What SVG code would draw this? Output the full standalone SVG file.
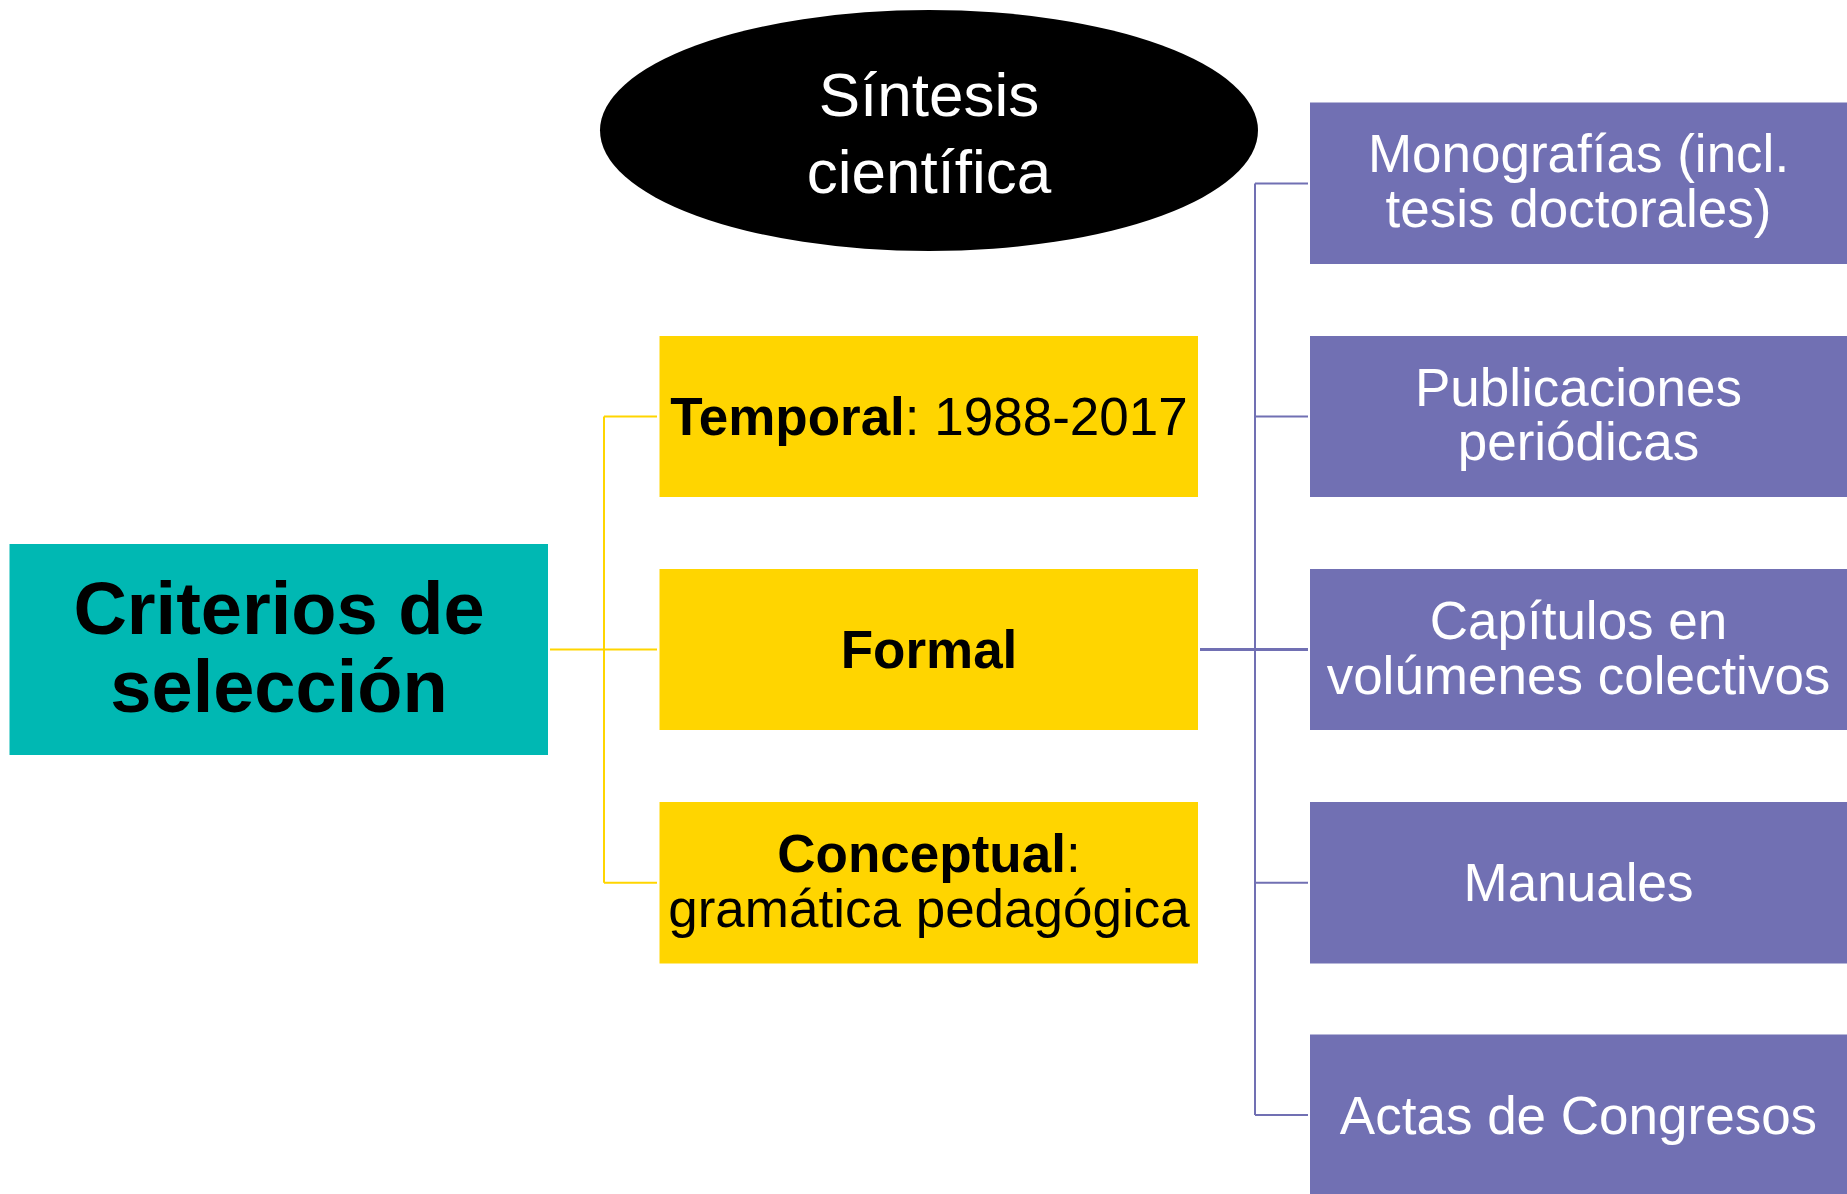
<svg xmlns="http://www.w3.org/2000/svg" width="1847" height="1194" viewBox="0 0 1847 1194">
<style>
.t{font-family:"Liberation Sans",Arial,sans-serif;text-anchor:middle}
.teal{fill:#00B8B3}
.yel{fill:#FFD500}
.pur{fill:#7170B3}
.yl{stroke:#FFD500;stroke-width:2;fill:none}
.pl{stroke:#7170B3;stroke-width:2;fill:none}
.w{fill:#FFFFFF}
.b{font-weight:bold}
</style>
<rect width="1847" height="1194" fill="#FFFFFF"/>
<g id="connectors">
<path class="yl" d="M550 649.5 H657 M604 416.5 V882.7 M604 416.5 H657 M604 882.7 H657"/>
<path class="pl" d="M1255 183.5 V1115 M1255 183.5 H1308 M1255 416.5 H1308 M1255 882.7 H1308 M1255 1115 H1308"/>
<path class="pl" style="stroke-width:3" d="M1200 649.5 H1308"/>
</g>
<g id="criterios">
<rect class="teal" x="9.5" y="544" width="538.5" height="211"/>
<text class="t b" font-size="74" x="279" y="634">Criterios de</text>
<text class="t b" font-size="74" x="279" y="712">selección</text>
</g>
<g id="sintesis">
<ellipse cx="929" cy="130.5" rx="329" ry="120.5" fill="#000000"/>
<text class="t w" font-size="62" x="929" y="116">Síntesis</text>
<text class="t w" font-size="62" x="929" y="193">científica</text>
</g>
<g id="temporal">
<rect class="yel" x="659.5" y="336" width="538.5" height="161"/>
<text class="t" font-size="53" x="929" y="434.5"><tspan class="b">Temporal</tspan>: 1988-2017</text>
</g>
<g id="formal">
<rect class="yel" x="659.5" y="569" width="538.5" height="161"/>
<text class="t b" font-size="53" x="929" y="668">Formal</text>
</g>
<g id="conceptual">
<rect class="yel" x="659.5" y="802" width="538.5" height="161.5"/>
<text class="t" font-size="53" x="929" y="871.5"><tspan class="b">Conceptual</tspan>:</text>
<text class="t" font-size="53" x="929" y="927">gramática pedagógica</text>
</g>
<g id="monografias">
<rect class="pur" x="1310" y="102.5" width="537" height="161.5"/>
<text class="t w" font-size="53" x="1578.5" y="172">Monografías (incl.</text>
<text class="t w" font-size="53" x="1578.5" y="227">tesis doctorales)</text>
</g>
<g id="publicaciones">
<rect class="pur" x="1310" y="336" width="537" height="161"/>
<text class="t w" font-size="53" x="1578.5" y="405.5">Publicaciones</text>
<text class="t w" font-size="53" x="1578.5" y="460">periódicas</text>
</g>
<g id="capitulos">
<rect class="pur" x="1310" y="569" width="537" height="161"/>
<text class="t w" font-size="53" x="1578.5" y="639">Capítulos en</text>
<text class="t w" font-size="53" x="1578.5" y="694">volúmenes colectivos</text>
</g>
<g id="manuales">
<rect class="pur" x="1310" y="802" width="537" height="161.5"/>
<text class="t w" font-size="53" x="1578.5" y="901">Manuales</text>
</g>
<g id="actas">
<rect class="pur" x="1310" y="1034.5" width="537" height="162"/>
<text class="t w" font-size="53" x="1578.5" y="1134">Actas de Congresos</text>
</g>
</svg>
